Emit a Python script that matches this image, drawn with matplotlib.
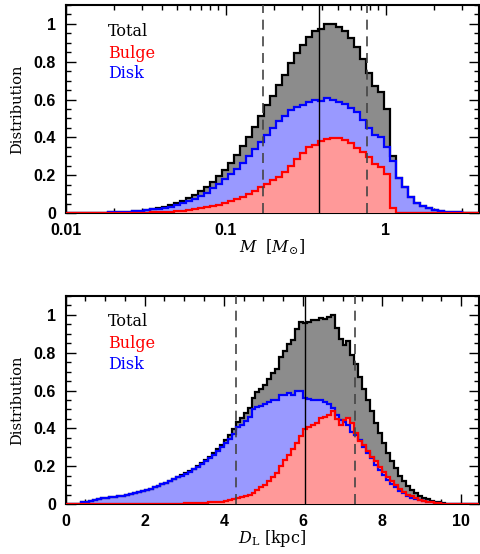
import matplotlib
matplotlib.use("Agg")
import matplotlib.pyplot as plt
import numpy as np
from matplotlib.ticker import MultipleLocator, LogLocator, FixedLocator, NullFormatter

plt.rcParams['mathtext.fontset'] = 'dejavuserif'

# ---- top panel: lens mass, 0.0375 dex bins from log M = -2 ----
mass_log_edges = np.linspace(-2.0, 0.625, 71)

mass_disk = [0, 0, 0.0005, 0.001, 0.001, 0.0015, 0.002, 0.003, 0.004, 0.005,
             0.007, 0.009, 0.012, 0.015, 0.019, 0.023, 0.028, 0.034, 0.042, 0.051,
             0.062, 0.076, 0.091, 0.108, 0.130, 0.153, 0.178, 0.205, 0.235, 0.267,
             0.302, 0.338, 0.375, 0.415, 0.448, 0.485, 0.515, 0.545, 0.562, 0.572,
             0.585, 0.598, 0.590, 0.606, 0.598, 0.588, 0.575, 0.556, 0.534, 0.492,
             0.448, 0.413, 0.400, 0.347, 0.277, 0.183, 0.139, 0.086, 0.051, 0.037,
             0.025, 0.016, 0.011, 0.007, 0.005, 0.003, 0.002, 0.001, 0.001, 0]
mass_bulge = [0, 0, 0, 0, 0, 0, 0, 0, 0, 0,
              0, 0.0005, 0.001, 0.002, 0.003, 0.004, 0.006, 0.008, 0.010, 0.013,
              0.016, 0.020, 0.025, 0.030, 0.035, 0.042, 0.051, 0.062, 0.074, 0.086,
              0.102, 0.119, 0.137, 0.155, 0.172, 0.192, 0.215, 0.247, 0.285, 0.318,
              0.348, 0.362, 0.382, 0.393, 0.399, 0.395, 0.388, 0.368, 0.342, 0.324,
              0.295, 0.259, 0.242, 0.205, 0.025, 0, 0, 0, 0, 0,
              0, 0, 0, 0, 0, 0, 0, 0, 0, 0]
mass_total = [0, 0, 0.0005, 0.001, 0.001, 0.0015, 0.002, 0.003, 0.004, 0.005,
              0.007, 0.010, 0.013, 0.017, 0.022, 0.027, 0.034, 0.042, 0.052, 0.064,
              0.078, 0.096, 0.116, 0.138, 0.165, 0.195, 0.229, 0.267, 0.309, 0.353,
              0.404, 0.457, 0.512, 0.570, 0.620, 0.677, 0.730, 0.792, 0.847, 0.890,
              0.933, 0.960, 0.972, 0.999, 0.997, 0.983, 0.963, 0.924, 0.876, 0.816,
              0.743, 0.672, 0.642, 0.552, 0.302, 0.183, 0.139, 0.086, 0.051, 0.037,
              0.025, 0.016, 0.011, 0.007, 0.005, 0.003, 0.002, 0.001, 0.001, 0]
mass_median = 0.383
mass_lo, mass_hi = 0.170, 0.758

# ---- bottom panel: lens distance, 0.1 kpc bins ----
dist_edges = np.linspace(0.0, 10.5, 106)

dist_disk = [0, 0, 0, 0.002, 0.008, 0.013, 0.018, 0.022, 0.026, 0.029,
             0.032, 0.035, 0.038, 0.041, 0.044, 0.048, 0.052, 0.057, 0.063, 0.069,
             0.075, 0.081, 0.088, 0.095, 0.103, 0.111, 0.120, 0.130, 0.140, 0.150,
             0.160, 0.171, 0.183, 0.196, 0.210, 0.225, 0.242, 0.260, 0.280, 0.300,
             0.320, 0.345, 0.370, 0.405, 0.420, 0.440, 0.460, 0.500, 0.515, 0.520,
             0.530, 0.540, 0.550, 0.548, 0.575, 0.578, 0.585, 0.575, 0.598, 0.600,
             0.560, 0.555, 0.552, 0.550, 0.548, 0.540, 0.528, 0.510, 0.470, 0.445,
             0.435, 0.418, 0.383, 0.365, 0.339, 0.303, 0.268, 0.242, 0.206, 0.180,
             0.153, 0.127, 0.106, 0.088, 0.070, 0.056, 0.044, 0.034, 0.026, 0.021,
             0.016, 0.012, 0.009, 0.006, 0.004, 0.002, 0.001, 0, 0, 0,
             0, 0, 0, 0, 0]
dist_bulge = [0, 0, 0, 0, 0, 0, 0, 0, 0, 0,
              0, 0, 0, 0, 0, 0, 0, 0, 0, 0,
              0, 0, 0, 0, 0, 0.001, 0.001, 0.001, 0.002, 0.002,
              0.003, 0.003, 0.004, 0.005, 0.006, 0.007, 0.008, 0.009, 0.011, 0.013,
              0.016, 0.020, 0.025, 0.030, 0.036, 0.043, 0.050, 0.060, 0.075, 0.090,
              0.100, 0.120, 0.140, 0.165, 0.200, 0.230, 0.260, 0.290, 0.325, 0.360,
              0.395, 0.405, 0.420, 0.430, 0.452, 0.460, 0.470, 0.490, 0.450, 0.420,
              0.445, 0.455, 0.430, 0.375, 0.335, 0.310, 0.280, 0.250, 0.225, 0.195,
              0.170, 0.145, 0.120, 0.100, 0.080, 0.065, 0.050, 0.040, 0.030, 0.022,
              0.016, 0.012, 0.008, 0.006, 0.004, 0.002, 0.001, 0, 0, 0,
              0, 0, 0, 0, 0]
dist_total = [0, 0, 0, 0.002, 0.008, 0.013, 0.018, 0.022, 0.026, 0.029,
              0.032, 0.035, 0.038, 0.041, 0.044, 0.048, 0.052, 0.057, 0.063, 0.069,
              0.075, 0.081, 0.088, 0.095, 0.103, 0.112, 0.121, 0.131, 0.142, 0.152,
              0.163, 0.174, 0.187, 0.201, 0.216, 0.232, 0.250, 0.269, 0.291, 0.313,
              0.336, 0.365, 0.395, 0.435, 0.456, 0.483, 0.510, 0.560, 0.590, 0.610,
              0.630, 0.660, 0.690, 0.713, 0.775, 0.808, 0.845, 0.865, 0.923, 0.960,
              0.955, 0.960, 0.975, 0.972, 0.985, 0.980, 0.990, 1.000, 0.930, 0.870,
              0.840, 0.860, 0.790, 0.740, 0.670, 0.610, 0.550, 0.490, 0.430, 0.375,
              0.323, 0.272, 0.226, 0.188, 0.150, 0.121, 0.094, 0.074, 0.056, 0.043,
              0.032, 0.024, 0.017, 0.012, 0.008, 0.004, 0.002, 0, 0, 0,
              0, 0, 0, 0, 0]
dist_median = 6.06
dist_lo, dist_hi = 4.32, 7.31

series_names = ['Total', 'Bulge', 'Disk']
line_colors = ['black', 'red', 'blue']
fill_colors = ['#8c8c8c', '#ff9999', '#9999ff']

tick_font = dict(family='Liberation Sans', weight='bold', size=11.5)
text_font = dict(family='DejaVu Serif', size=11.5)


def draw_panel(ax, edges, total, disk, bulge, med, lo, hi):
    # fills first (total, disk, bulge), outlines on top
    ax.stairs(total, edges, fill=True, color=fill_colors[0], lw=0, zorder=1)
    ax.stairs(disk, edges, fill=True, color=fill_colors[2], lw=0, zorder=2)
    ax.stairs(bulge, edges, fill=True, color=fill_colors[1], lw=0, zorder=3)
    ax.stairs(total, edges, color=line_colors[0], lw=1.6, zorder=4)
    ax.stairs(disk, edges, color=line_colors[2], lw=1.6, zorder=5)
    ax.stairs(bulge, edges, color=line_colors[1], lw=1.6, zorder=6)

    ax.axvline(med, color='black', lw=1.0, zorder=7)
    for v in (lo, hi):
        ax.axvline(v, color='#444444', lw=1.2, ls=(0, (6, 4)), zorder=7)

    ax.set_ylim(0, 1.1)
    ax.yaxis.set_major_locator(FixedLocator([0, 0.2, 0.4, 0.6, 0.8, 1.0]))
    ax.yaxis.set_minor_locator(MultipleLocator(0.05))
    ax.set_yticklabels(['0', '0.2', '0.4', '0.6', '0.8', '1'], fontdict=tick_font)
    ax.tick_params(which='both', direction='in', top=True, right=True, width=1.0)
    ax.tick_params(which='major', length=7, pad=7)
    ax.tick_params(which='minor', length=3.5)
    for s in ax.spines.values():
        s.set_linewidth(1.5)
    ax.set_ylabel('Distribution', fontdict=dict(family='DejaVu Serif', size=10.5))
    ax.yaxis.set_label_coords(-0.1, 0.5)


fig = plt.figure(figsize=(4.8, 5.54), dpi=100)
ax1 = fig.add_axes([0.1365, 0.6155, 0.8615, 0.3755])
ax2 = fig.add_axes([0.1365, 0.0903, 0.8615, 0.3755])

# top: mass
ax1.set_xscale('log')
draw_panel(ax1, 10 ** mass_log_edges, mass_total, mass_disk, mass_bulge,
           mass_median, mass_lo, mass_hi)
ax1.set_xlim(0.01, 3.82)
ax1.xaxis.set_major_locator(FixedLocator([0.01, 0.1, 1]))
ax1.xaxis.set_minor_locator(LogLocator(base=10, subs=np.arange(2, 10)))
ax1.xaxis.set_minor_formatter(NullFormatter())
ax1.set_xticklabels(['0.01', '0.1', '1'], fontdict=tick_font)
ax1.text(0.5, -0.163, r'$M\ \ [M_{\odot}]$', transform=ax1.transAxes,
         ha='center', va='center', fontsize=11.5)

# bottom: distance
draw_panel(ax2, dist_edges, dist_total, dist_disk, dist_bulge,
           dist_median, dist_lo, dist_hi)
ax2.set_xlim(0, 10.45)
ax2.xaxis.set_major_locator(FixedLocator([0, 2, 4, 6, 8, 10]))
ax2.xaxis.set_minor_locator(MultipleLocator(0.5))
ax2.set_xticklabels(['0', '2', '4', '6', '8', '10'], fontdict=tick_font)
ax2.text(0.5, -0.168, r'$D_{\rm L}$ [kpc]', transform=ax2.transAxes,
         ha='center', va='center', fontsize=11.5, family='DejaVu Serif')

for ax, ys in ((ax1, (0.872, 0.769, 0.673)), (ax2, (0.876, 0.773, 0.672))):
    for name, col, y in zip(series_names, line_colors, ys):
        ax.text(0.1035, y, name, color=col, transform=ax.transAxes,
                ha='left', va='center', zorder=10, **text_font)

fig.savefig('out.png', dpi=100)
